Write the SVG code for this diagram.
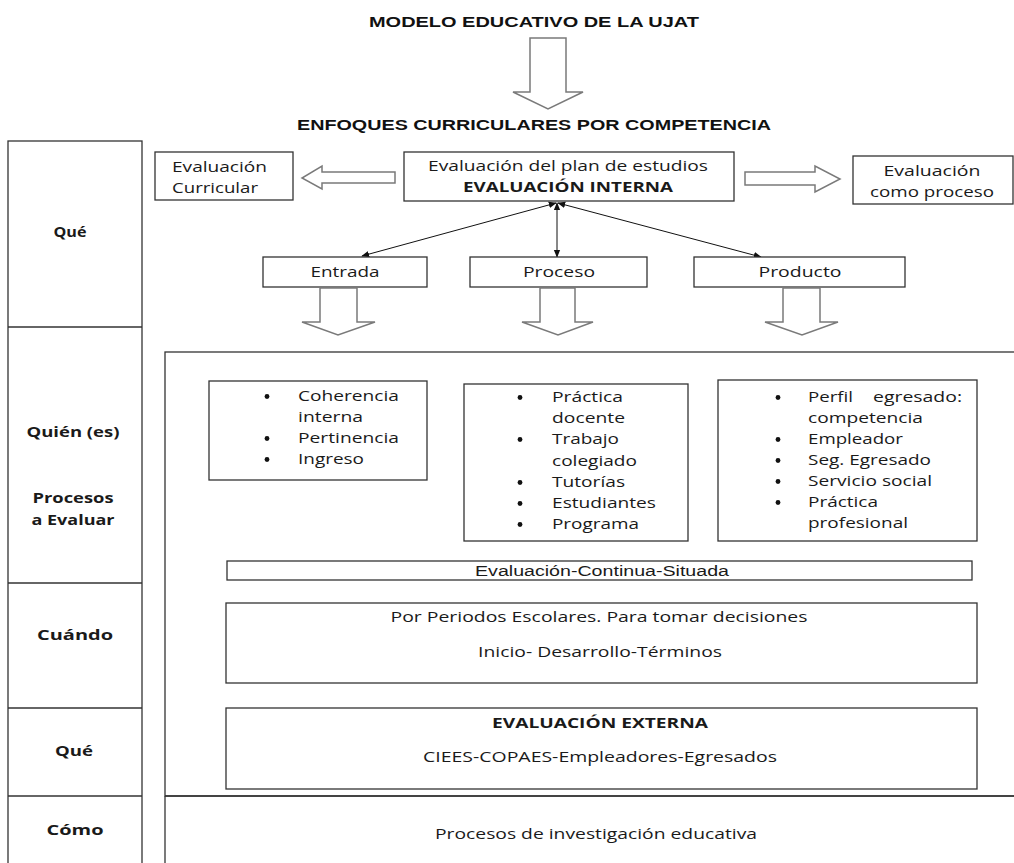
<svg xmlns="http://www.w3.org/2000/svg" width="1014" height="863" viewBox="0 0 1014 863">
<defs>
<style>
.bx{fill:#fff;stroke:#333;stroke-width:1.3}
.ln{fill:none;stroke:#333;stroke-width:1.3}
.ha{fill:#fff;stroke:#7a7a7a;stroke-width:1.5;stroke-linejoin:miter}
.t{font-family:"Open Sans","Noto Sans",sans-serif;font-size:14px;fill:#1a1a1a}
.b{font-family:"Open Sans","Noto Sans",sans-serif;font-size:14px;font-weight:bold;fill:#1a1a1a}
.a{font-family:"Liberation Sans",Arial,sans-serif;font-size:14px;fill:#1a1a1a}
.ab{font-family:"Liberation Sans",Arial,sans-serif;font-size:14px;font-weight:bold;fill:#111}
.c{text-anchor:middle}
.con{fill:none;stroke:#111;stroke-width:1}
</style>
<marker id="ah" viewBox="0 0 10 10" refX="9" refY="5" markerWidth="8" markerHeight="8" orient="auto-start-reverse" markerUnits="userSpaceOnUse">
<path d="M0,1 L10,5 L0,9 Z" fill="#111"/>
</marker>
</defs>
<rect width="1014" height="863" fill="#fff"/>

<g id="title">
<text class="ab c" x="534" y="27" textLength="330" lengthAdjust="spacingAndGlyphs">MODELO EDUCATIVO DE LA UJAT</text>
</g>
<g id="big-arrow">
<polygon class="ha" points="530,38 566,38 566,92 583,92 548,109 513,92 530,92"/>
</g>
<g id="enfoques">
<text class="ab c" x="534" y="130" textLength="474" lengthAdjust="spacingAndGlyphs">ENFOQUES CURRICULARES POR COMPETENCIA</text>
</g>

<g id="left-column">
<rect class="bx" x="8" y="141" width="134" height="730"/>
<line class="ln" x1="8" y1="327" x2="142" y2="327"/>
<line class="ln" x1="8" y1="583" x2="142" y2="583"/>
<line class="ln" x1="8" y1="708" x2="142" y2="708"/>
<line class="ln" x1="8" y1="796" x2="142" y2="796"/>
<text class="b c" x="70" y="237" textLength="33" lengthAdjust="spacingAndGlyphs">Qué</text>
<text class="b c" x="73" y="437" textLength="93" lengthAdjust="spacingAndGlyphs">Quién (es)</text>
<text class="b c" x="73" y="503" textLength="81" lengthAdjust="spacingAndGlyphs">Procesos</text>
<text class="b c" x="73" y="525" textLength="83" lengthAdjust="spacingAndGlyphs">a Evaluar</text>
<text class="b c" x="75" y="640" textLength="76" lengthAdjust="spacingAndGlyphs">Cuándo</text>
<text class="b c" x="74" y="756" textLength="38" lengthAdjust="spacingAndGlyphs">Qué</text>
<text class="b c" x="75" y="835" textLength="57" lengthAdjust="spacingAndGlyphs">Cómo</text>
</g>

<g id="big-box">
<rect class="bx" x="165" y="352" width="860" height="444"/>
<line class="ln" x1="165" y1="796" x2="165" y2="870"/>
</g>

<g id="eval-curricular">
<rect class="bx" x="155" y="152" width="138" height="48"/>
<text class="t" x="172" y="172" textLength="95" lengthAdjust="spacingAndGlyphs">Evaluación</text>
<text class="t" x="172" y="193" textLength="86" lengthAdjust="spacingAndGlyphs">Curricular</text>
</g>
<g id="arrow-left">
<polygon class="ha" points="395,172 395,183 322,183 322,189 302,178 322,166 322,172"/>
</g>
<g id="eval-interna">
<rect class="bx" x="404" y="152" width="330" height="49"/>
<text class="t c" x="568" y="171" textLength="280" lengthAdjust="spacingAndGlyphs">Evaluación del plan de estudios</text>
<text class="b c" x="568" y="192" textLength="210" lengthAdjust="spacingAndGlyphs">EVALUACIÓN INTERNA</text>
</g>
<g id="arrow-right">
<polygon class="ha" points="745,172 815,172 815,166 840,179 815,192 815,185 745,185"/>
</g>
<g id="eval-proceso">
<rect class="bx" x="853" y="156" width="160" height="48"/>
<text class="t c" x="932" y="176" textLength="97" lengthAdjust="spacingAndGlyphs">Evaluación</text>
<text class="t c" x="932" y="197" textLength="124" lengthAdjust="spacingAndGlyphs">como proceso</text>
</g>

<g id="connectors">
<line class="con" x1="556" y1="203" x2="362" y2="256" marker-start="url(#ah)" marker-end="url(#ah)"/>
<line class="con" x1="557" y1="203" x2="557" y2="257" marker-start="url(#ah)" marker-end="url(#ah)"/>
<line class="con" x1="558" y1="203" x2="761" y2="257" marker-start="url(#ah)" marker-end="url(#ah)"/>
</g>

<g id="entrada">
<rect class="bx" x="263" y="257" width="164" height="30"/>
<text class="t c" x="345" y="277" textLength="69" lengthAdjust="spacingAndGlyphs">Entrada</text>
<polygon class="ha" points="320,288 357,288 357,322 375,322 338,335 302,322 320,322"/>
</g>
<g id="proceso">
<rect class="bx" x="470" y="257" width="177" height="30"/>
<text class="t c" x="559" y="277" textLength="72" lengthAdjust="spacingAndGlyphs">Proceso</text>
<polygon class="ha" points="540,288 575,288 575,322 593,322 558,335 522,322 540,322"/>
</g>
<g id="producto">
<rect class="bx" x="694" y="257" width="211" height="30"/>
<text class="t c" x="800" y="277" textLength="83" lengthAdjust="spacingAndGlyphs">Producto</text>
<polygon class="ha" points="783,288 820,288 820,322 838,322 802,335 765,322 783,322"/>
</g>

<g id="lista-entrada">
<rect class="bx" x="209" y="381" width="218" height="99"/>
<circle cx="267" cy="396.5" r="2.4" fill="#111"/>
<circle cx="267" cy="438.5" r="2.4" fill="#111"/>
<circle cx="267" cy="459.5" r="2.4" fill="#111"/>
<text class="t" x="298" y="401" textLength="101" lengthAdjust="spacingAndGlyphs">Coherencia</text>
<text class="t" x="298" y="422" textLength="65" lengthAdjust="spacingAndGlyphs">interna</text>
<text class="t" x="298" y="443" textLength="101" lengthAdjust="spacingAndGlyphs">Pertinencia</text>
<text class="t" x="298" y="464" textLength="66" lengthAdjust="spacingAndGlyphs">Ingreso</text>
</g>

<g id="lista-proceso">
<rect class="bx" x="464" y="384" width="224" height="157"/>
<circle cx="520" cy="397.5" r="2.4" fill="#111"/>
<circle cx="520" cy="439.5" r="2.4" fill="#111"/>
<circle cx="520" cy="482.5" r="2.4" fill="#111"/>
<circle cx="520" cy="503.5" r="2.4" fill="#111"/>
<circle cx="520" cy="524.5" r="2.4" fill="#111"/>
<text class="t" x="552" y="402" textLength="71" lengthAdjust="spacingAndGlyphs">Práctica</text>
<text class="t" x="552" y="423" textLength="73" lengthAdjust="spacingAndGlyphs">docente</text>
<text class="t" x="552" y="444" textLength="67" lengthAdjust="spacingAndGlyphs">Trabajo</text>
<text class="t" x="552" y="466" textLength="85" lengthAdjust="spacingAndGlyphs">colegiado</text>
<text class="t" x="552" y="487" textLength="73" lengthAdjust="spacingAndGlyphs">Tutorías</text>
<text class="t" x="552" y="508" textLength="104" lengthAdjust="spacingAndGlyphs">Estudiantes</text>
<text class="t" x="552" y="529" textLength="87" lengthAdjust="spacingAndGlyphs">Programa</text>
</g>

<g id="lista-producto">
<rect class="bx" x="718" y="380" width="259" height="161"/>
<circle cx="778" cy="397.5" r="2.4" fill="#111"/>
<circle cx="778" cy="439.5" r="2.4" fill="#111"/>
<circle cx="778" cy="460.5" r="2.4" fill="#111"/>
<circle cx="778" cy="481.5" r="2.4" fill="#111"/>
<circle cx="778" cy="502.5" r="2.4" fill="#111"/>
<text class="t" y="402"><tspan x="808" textLength="45" lengthAdjust="spacingAndGlyphs">Perfil</tspan><tspan x="873" textLength="89" lengthAdjust="spacingAndGlyphs">egresado:</tspan></text>
<text class="t" x="808" y="423" textLength="115" lengthAdjust="spacingAndGlyphs">competencia</text>
<text class="t" x="808" y="444" textLength="95" lengthAdjust="spacingAndGlyphs">Empleador</text>
<text class="t" x="808" y="465" textLength="123" lengthAdjust="spacingAndGlyphs">Seg. Egresado</text>
<text class="t" x="808" y="486" textLength="124" lengthAdjust="spacingAndGlyphs">Servicio social</text>
<text class="t" x="808" y="507" textLength="70" lengthAdjust="spacingAndGlyphs">Práctica</text>
<text class="t" x="808" y="528" textLength="100" lengthAdjust="spacingAndGlyphs">profesional</text>
</g>

<g id="continua">
<rect class="bx" x="227" y="561" width="745" height="19"/>
<text class="a c" x="602" y="576" textLength="254" lengthAdjust="spacingAndGlyphs">Evaluación-Continua-Situada</text>
</g>

<g id="cuando">
<rect class="bx" x="226" y="603" width="751" height="80"/>
<text class="t c" x="599" y="622" textLength="417" lengthAdjust="spacingAndGlyphs">Por Periodos Escolares. Para tomar decisiones</text>
<text class="t c" x="600" y="657" textLength="244" lengthAdjust="spacingAndGlyphs">Inicio- Desarrollo-Términos</text>
</g>

<g id="externa">
<rect class="bx" x="226" y="708" width="751" height="81"/>
<text class="b c" x="600" y="728" textLength="216" lengthAdjust="spacingAndGlyphs">EVALUACIÓN EXTERNA</text>
<text class="t c" x="600" y="762" textLength="354" lengthAdjust="spacingAndGlyphs">CIEES-COPAES-Empleadores-Egresados</text>
</g>

<g id="como">
<line class="ln" x1="165" y1="796" x2="1020" y2="796"/>
<text class="t c" x="596" y="839" textLength="322" lengthAdjust="spacingAndGlyphs">Procesos de investigación educativa</text>
</g>
</svg>
